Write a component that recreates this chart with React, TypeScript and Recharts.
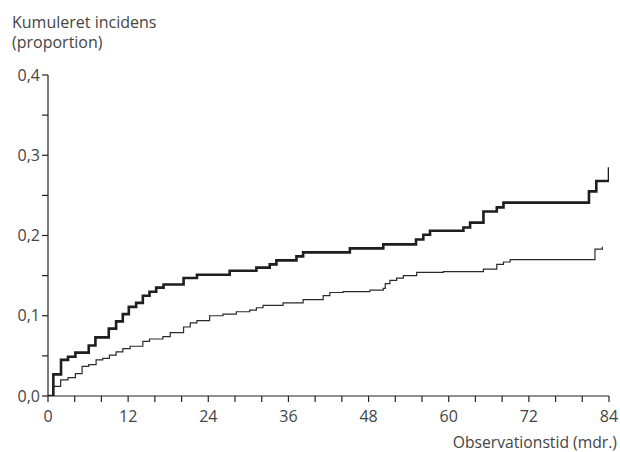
import React from 'react';
import { LineChart, Line, XAxis, YAxis } from 'recharts';

// thick curve: jump times (months) and cumulative incidence after each jump
const upperTimes = [0, 0.8, 1.95, 3.0, 4.1, 6.1, 7.1, 9.1, 10.2, 11.2, 12.1, 13.2, 14.2, 15.2, 16.2, 17.3, 20.3, 22.3, 27.2, 31.2, 33.2, 34.2, 37.2, 38.2, 45.2, 50.2, 55.1, 56.2, 57.2, 62.2, 63.2, 65.2, 67.2, 68.2, 81.0, 82.1, 84.0, 84.0];
const upperValues = [0, 0.027, 0.045, 0.049, 0.054, 0.063, 0.073, 0.084, 0.093, 0.102, 0.111, 0.116, 0.125, 0.13, 0.135, 0.139, 0.147, 0.151, 0.156, 0.16, 0.164, 0.169, 0.174, 0.179, 0.184, 0.189, 0.195, 0.201, 0.206, 0.21, 0.216, 0.23, 0.235, 0.241, 0.255, 0.268, 0.268, 0.285];

// thin curve
const lowerTimes = [0, 0.8, 1.9, 3.0, 4.1, 5.1, 6.1, 7.2, 8.2, 9.2, 10.2, 11.2, 12.3, 14.2, 15.2, 17.2, 18.3, 20.3, 21.3, 22.3, 24.2, 26.2, 28.2, 30.2, 31.2, 32.2, 35.2, 38.2, 41.2, 42.2, 44.2, 48.2, 50.2, 50.5, 51.2, 52.2, 53.2, 55.2, 59.2, 65.2, 67.2, 68.2, 69.2, 81.9, 83.0];
const lowerValues = [0, 0.012, 0.02, 0.023, 0.028, 0.037, 0.039, 0.045, 0.047, 0.051, 0.055, 0.059, 0.062, 0.068, 0.071, 0.074, 0.079, 0.086, 0.091, 0.094, 0.1, 0.102, 0.105, 0.107, 0.11, 0.113, 0.116, 0.12, 0.125, 0.129, 0.13, 0.132, 0.134, 0.14, 0.144, 0.147, 0.15, 0.154, 0.155, 0.158, 0.164, 0.167, 0.17, 0.183, 0.186];

const xTicks = [0, 4, 8, 12, 16, 20, 24, 28, 32, 36, 40, 44, 48, 52, 56, 60, 64, 68, 72, 76, 80, 84];
const yTicks = [0, 0.05, 0.1, 0.15, 0.2, 0.25, 0.3, 0.35, 0.4];

const upper = upperTimes.map((t, i) => ({ t, p: upperValues[i] }));
const lower = lowerTimes.map((t, i) => ({ t, p: lowerValues[i] }));

const font = '"Open Sans", sans-serif';
const ink = '#222';
const textInk = '#444';

const xFmt = (v: number) => (v % 12 === 0 ? String(v) : '');
const yFmt = (v: number) =>
  Math.round(v * 100) % 10 === 0 ? v.toFixed(1).replace('.', ',') : '';

const label = { position: 'absolute' as const, fontSize: 16, color: textInk, lineHeight: '20px', whiteSpace: 'nowrap' as const };

export default function App() {
  return (
    <div style={{ position: 'absolute', left: 0, top: 0, width: 620, height: 452, background: '#fff', fontFamily: font }}>
      <div style={{ ...label, left: 12, top: 12 }}>Kumuleret incidens</div>
      <div style={{ ...label, left: 12, top: 32 }}>(proportion)</div>
      <div style={{ ...label, right: 3, top: 432, fontSize: 15.7 }}>Observationstid (mdr.)</div>
      <LineChart width={620} height={452} margin={{ top: 75, right: 11, bottom: 26, left: 8 }}>
        <XAxis
          type="number"
          dataKey="t"
          domain={[0, 84]}
          ticks={xTicks}
          tickFormatter={xFmt}
          interval={0}
          allowDataOverflow
          height={30}
          tickSize={6}
          tickMargin={9}
          stroke={ink}
          strokeWidth={1.2}
          tick={{ fill: textInk, fontSize: 16, fontFamily: font }}
        />
        <YAxis
          type="number"
          dataKey="p"
          domain={[0, 0.4]}
          ticks={yTicks}
          tickFormatter={yFmt}
          interval={0}
          allowDataOverflow
          width={40}
          tickSize={6}
          stroke={ink}
          strokeWidth={1.2}
          tick={{ fill: textInk, fontSize: 16, fontFamily: font }}
        />
        <Line
          data={lower}
          dataKey="p"
          type="stepAfter"
          stroke="#2a2a2a"
          strokeWidth={1.2}
          dot={false}
          isAnimationActive={false}
        />
        <Line
          data={upper}
          dataKey="p"
          type="stepAfter"
          stroke="#1e1e1e"
          strokeWidth={2.6}
          dot={false}
          isAnimationActive={false}
        />
      </LineChart>
    </div>
  );
}
